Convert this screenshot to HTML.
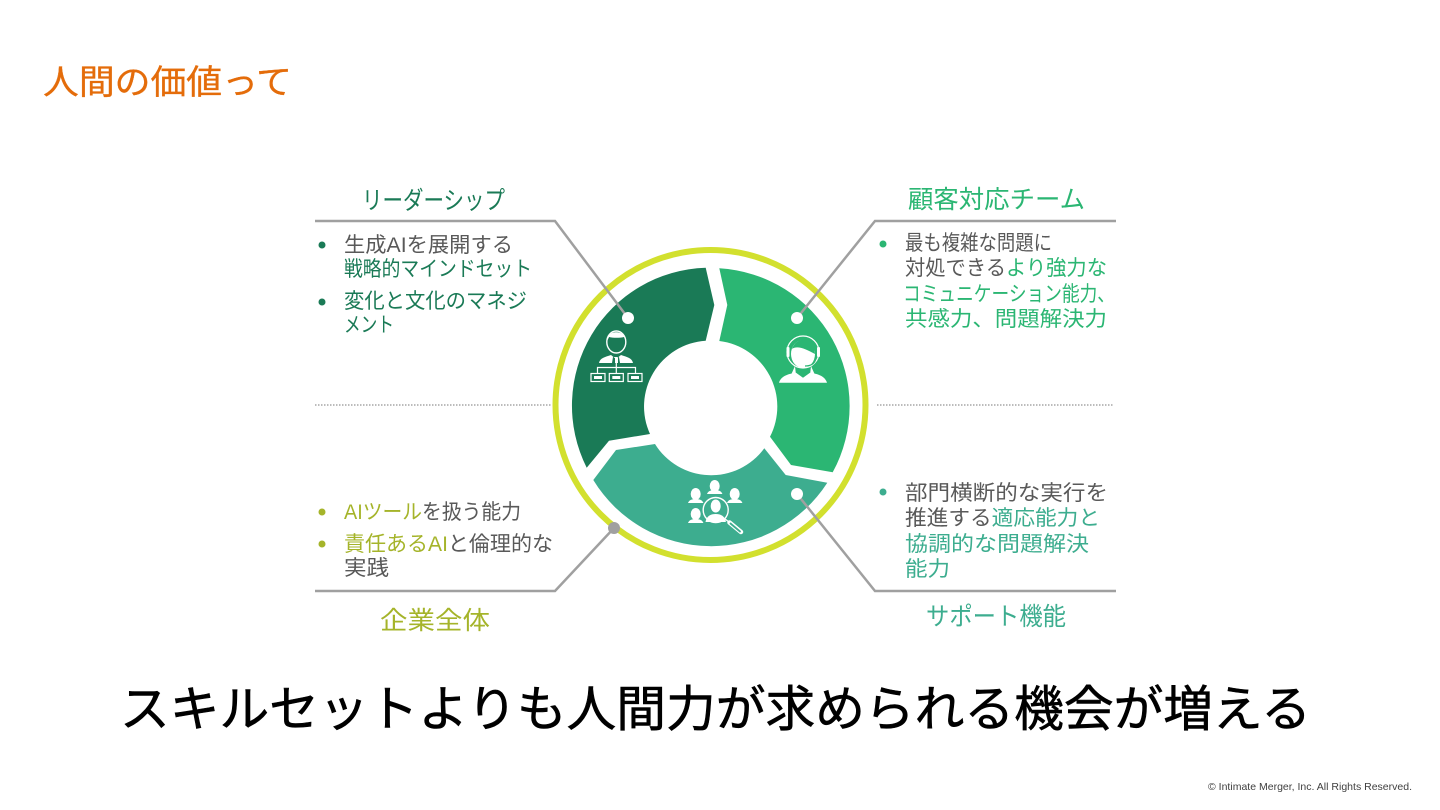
<!DOCTYPE html>
<html lang="ja"><head><meta charset="utf-8"><title>人間の価値って</title>
<style>
html,body{margin:0;padding:0;background:#fff;width:1440px;height:810px;overflow:hidden}
svg{display:block;position:absolute;left:0;top:0}
text{font-family:"Liberation Sans","Noto Sans CJK JP",sans-serif;white-space:pre}
.b{font-size:21px;fill:#595959}
.dg{fill:#1a7a56}.g{fill:#2bb673}.t{fill:#3dad8f}.l{fill:#a5b42a}
.h{font-size:25px}
</style></head><body>
<svg width="1440" height="810" viewBox="0 0 1440 810" xmlns="http://www.w3.org/2000/svg">
<text x="43" y="94" font-size="34" fill="#e46c0a" stroke="#e46c0a" stroke-width=".3" textLength="249" lengthAdjust="spacingAndGlyphs">人間の価値って</text>

<!-- dotted -->
<g stroke="#a6a6a6" stroke-width="1.5" stroke-dasharray="1.5 1.5" fill="none">
<path d="M315 405H552"/><path d="M877 405H1113"/></g>

<!-- ring and segments -->
<circle cx="710.5" cy="405" r="155" fill="none" stroke="#d2e02e" stroke-width="6"/>
<path fill="#1a7a56" d="M705.7 267.7A138 138 0 0 0 586.7 467.7L609 440.7L650 434A66 66 0 0 1 705.7 340.7L714.3 305Z"/>
<path fill="#2bb673" d="M719.3 268.3A138 138 0 0 1 832.7 472.3L791 465L770 436.7A66 66 0 0 0 719.3 341L727.3 305Z"/>
<path fill="#3dad8f" d="M593.3 480L616 450L655 444A66 66 0 0 0 764.3 448.3L785.7 475L827.3 482.7A138 138 0 0 1 593.3 480Z"/>

<!-- connectors -->
<g fill="none" stroke="#a0a0a0" stroke-width="2.5">
<path d="M315 221H555L628 318"/>
<path d="M1116 221H875L797 318"/>
<path d="M315 591H555L614 528"/>
<path d="M1116 591H875L797 494"/>
</g>
<g fill="#fff"><circle cx="628" cy="318" r="6"/><circle cx="797" cy="318" r="6"/><circle cx="797" cy="494" r="6"/></g>
<circle cx="614" cy="528" r="6" fill="#a0a0a0"/>

<!-- leader icon -->
<g fill="#fff">
<ellipse cx="616.3" cy="342" rx="9.500" ry="11" fill="none" stroke="#fff" stroke-width="1.4"/>
<path d="M606.500 342c-1-13 20.500-13 19.600 0l-2-5c-4 1-11 1-15 0z"/>
<path d="M599 363c1-5 6-6 12-8l5 4 5-4c6 2 11 3 12 8h-13l-1-6h-6l-1 6z"/>
<rect x="615" y="358" width="3" height="5"/>
</g>
<g fill="none" stroke="#fff" stroke-width="1.2">
<path d="M616.3 363V373M597.500 373v-5.500h38V373"/>
<rect x="591" y="373.500" width="14" height="8"/><rect x="609.300" y="373.500" width="14" height="8"/><rect x="628" y="373.500" width="14" height="8"/>
</g>
<g fill="#fff"><rect x="594" y="376" width="8" height="3"/><rect x="612.300" y="376" width="8" height="3"/><rect x="631" y="376" width="8" height="3"/></g>

<!-- headset icon -->
<g>
<circle cx="803" cy="352" r="16" fill="none" stroke="#fff" stroke-width="1.2"/>
<ellipse cx="803" cy="354" rx="12" ry="14" fill="#fff"/>
<path d="M792 349c5-4 14 0 23 5l-1-10c-4-7-18-7-22 5z" fill="#2bb673"/>
<rect x="786.500" y="347" width="3" height="10" rx="1" fill="#fff"/><rect x="817" y="347" width="3" height="10" rx="1" fill="#fff"/>
<path d="M779 382.700c2-7 10-9 17-10l7 5 7-5c7 1 15 3 17 10z" fill="#fff"/>
<path d="M795 366l-4 9h5zM811 366l4 9h-5z" fill="#fff"/>
<path d="M816 358c-1 6-5 8-11 8" fill="none" stroke="#2bb673" stroke-width="1.2"/>
</g>

<!-- team icon -->
<g fill="#fff">
<ellipse cx="695.700" cy="494" rx="5" ry="6"/><path d="M688 503c1-3 4-4 7.700-4s6.700 1 7.700 4z"/>
<ellipse cx="714.700" cy="486" rx="5" ry="6"/><path d="M707 494c1-3 4-4 7.700-4s6.700 1 7.700 4z"/>
<ellipse cx="734.700" cy="494" rx="5" ry="6"/><path d="M727 503c1-3 4-4 7.700-4s6.700 1 7.700 4z"/>
<ellipse cx="695.700" cy="514" rx="5" ry="6"/><path d="M688 523c1-3 4-4 7.700-4s6.700 1 7.700 4z"/>
<ellipse cx="715.700" cy="506" rx="5" ry="6.500"/><path d="M705.500 522c1-6 5-8 10.200-8s9.200 2 10.200 8z"/>
</g>
<circle cx="715.700" cy="510" r="12.500" fill="none" stroke="#fff" stroke-width="1.4"/>
<path d="M725 519L729 522" stroke="#fff" stroke-width="1.4"/>
<path d="M729.500 522.500L741 532" stroke="#fff" stroke-width="4.500" stroke-linecap="round"/>
<path d="M730.500 523.500L740 531.500" stroke="#3dad8f" stroke-width="1.800" stroke-linecap="round"/>

<!-- headings -->
<text class="h dg" x="362" y="209" textLength="143" lengthAdjust="spacingAndGlyphs">リーダーシップ</text>
<text class="h g" x="908" y="208" textLength="177" lengthAdjust="spacingAndGlyphs">顧客対応チーム</text>
<text class="h l" x="380" y="629" textLength="110" lengthAdjust="spacingAndGlyphs">企業全体</text>
<text class="h t" x="926" y="625" textLength="140" lengthAdjust="spacingAndGlyphs">サポート機能</text>

<!-- bullets -->
<g class="dg"><circle cx="322" cy="245" r="3.500"/><circle cx="322" cy="302" r="3.500"/></g>
<circle class="g" cx="883" cy="244" r="3.500"/>
<circle class="t" cx="883" cy="492" r="3.500"/>
<g class="l"><circle cx="322" cy="512" r="3.500"/><circle cx="322" cy="544" r="3.500"/></g>

<!-- body: top-left -->
<text class="b" x="344" y="252" textLength="169" lengthAdjust="spacingAndGlyphs">生成AIを展開する</text>
<text class="b dg" x="344" y="276" textLength="188" lengthAdjust="spacingAndGlyphs">戦略的マインドセット</text>
<text class="b dg" x="344" y="308" textLength="183" lengthAdjust="spacingAndGlyphs">変化と文化のマネジ</text>
<text class="b dg" x="344" y="332" textLength="50" lengthAdjust="spacingAndGlyphs">メント</text>

<!-- body: top-right -->
<text class="b" x="905" y="250" textLength="147" lengthAdjust="spacingAndGlyphs">最も複雑な問題に</text>
<text class="b" x="905" y="275" textLength="202" lengthAdjust="spacingAndGlyphs">対処できる<tspan class="g">より強力な</tspan></text>
<text class="b g" x="903" y="301" textLength="212" lengthAdjust="spacingAndGlyphs">コミュニケーション能力、</text>
<text class="b g" x="905" y="326" textLength="202" lengthAdjust="spacingAndGlyphs">共感力、問題解決力</text>

<!-- body: bottom-right -->
<text class="b" x="905" y="500" textLength="203" lengthAdjust="spacingAndGlyphs">部門横断的な実行を</text>
<text class="b" x="905" y="525" textLength="195" lengthAdjust="spacingAndGlyphs">推進する<tspan class="t">適応能力と</tspan></text>
<text class="b t" x="905" y="551" textLength="184" lengthAdjust="spacingAndGlyphs">協調的な問題解決</text>
<text class="b t" x="905" y="576" textLength="45" lengthAdjust="spacingAndGlyphs">能力</text>

<!-- body: bottom-left -->
<text class="b" x="344" y="519" textLength="177" lengthAdjust="spacingAndGlyphs"><tspan class="l">AIツール</tspan>を扱う能力</text>
<text class="b" x="344" y="551" textLength="209" lengthAdjust="spacingAndGlyphs"><tspan class="l">責任あるAI</tspan>と倫理的な</text>
<text class="b" x="344" y="575" textLength="45" lengthAdjust="spacingAndGlyphs">実践</text>

<text x="120" y="726" font-size="49" fill="#000" stroke="#000" stroke-width=".6" textLength="1191" lengthAdjust="spacingAndGlyphs">スキルセットよりも人間力が求められる機会が増える</text>
<text x="1208" y="790" font-size="10.500" fill="#404040" textLength="204">© Intimate Merger, Inc. All Rights Reserved.</text>
</svg>
</body></html>
